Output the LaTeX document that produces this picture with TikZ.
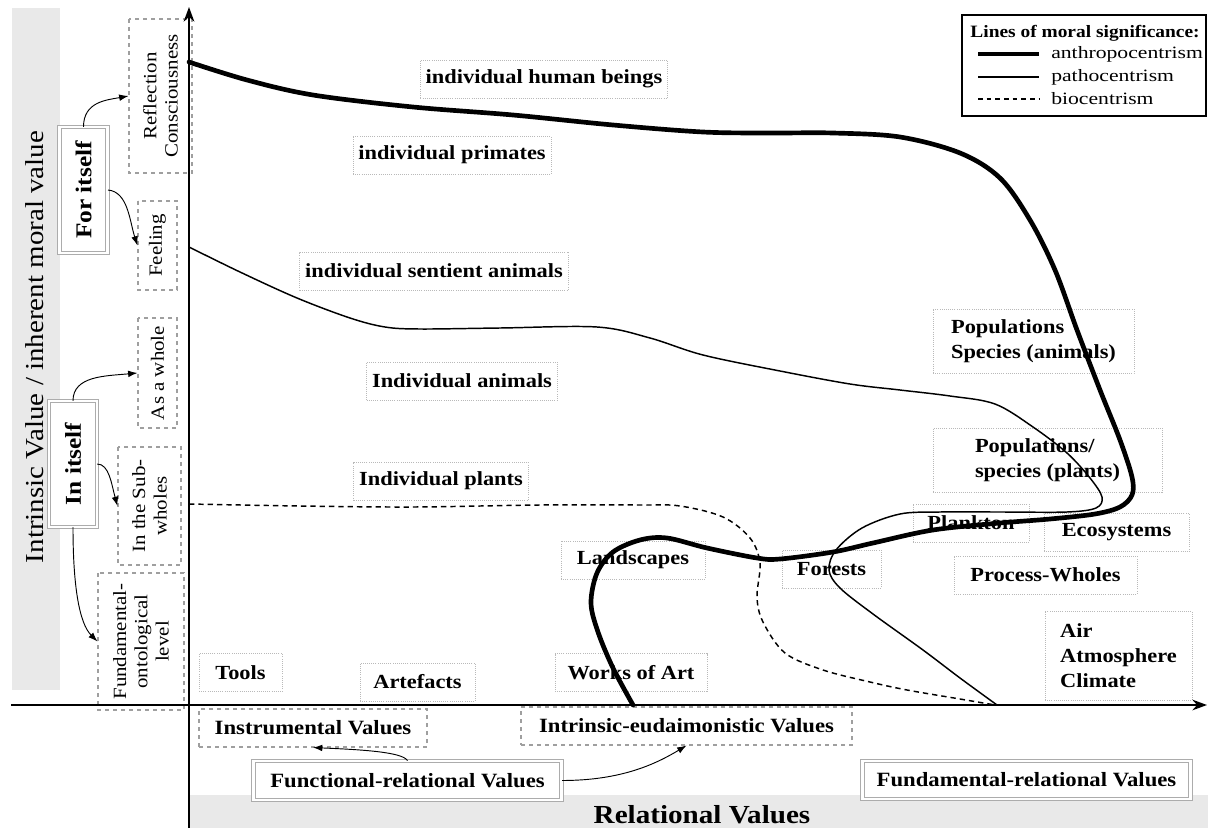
\documentclass[tikz,border=0pt]{standalone}
\usepackage{fontspec}
\setmainfont[FakeStretch=1.12]{Liberation Serif}
\newfontfamily\legfont[FakeStretch=1.25]{Liberation Serif}
\usetikzlibrary{arrows.meta}
\tikzset{
  lbl/.style={font=\bfseries\fontsize{15}{19}\selectfont, draw=gray!55, densely dotted, line width=0.6pt, inner xsep=4pt, inner ysep=0pt, minimum height=28.5pt},
  lblml/.style={lbl, align=left},
  leftbox/.style={draw=gray!75, dashed, line width=0.8pt, rotate=90, font=\fontsize{14}{16}\selectfont, align=center, inner sep=0pt},
  dblbox/.style={draw=gray!65, double=white, double distance=1.6pt, line width=0.8pt, fill=white, inner sep=0pt},
  botbox/.style={draw=gray!75, dashed, line width=0.8pt, inner sep=0pt, font=\bfseries\fontsize{15.2}{18}\selectfont},
  sarrow/.style={-{Latex[length=7pt,width=5pt]}, line width=0.7pt},
  axisline/.style={line width=1.5pt, -{Stealth[length=11pt,width=8pt]}},
  anthro/.style={line width=3.5pt, line cap=round, line join=round},
  patho/.style={line width=1.1pt},
  bio/.style={line width=1.1pt, dash pattern=on 4pt off 3pt},
  legtext/.style={anchor=west, font=\legfont\fontsize{13}{15}\selectfont, inner sep=0pt},
}
\begin{document}
\begin{tikzpicture}[x=0.75pt,y=-0.75pt]
\useasboundingbox (0,0) rectangle (1208,828);
% grey bands
\fill[gray!17] (12,8) rectangle (60,690);
\fill[gray!17] (190,795) rectangle (1208,828);
\node[rotate=90, font=\fontsize{19.4}{22}\selectfont, inner sep=0pt] (ivlabel) at (35,347) {Intrinsic Value / inherent moral value};
\node[font=\bfseries\fontsize{19.5}{22}\selectfont, inner sep=0pt] (rvlabel) at (702,815) {Relational Values};

% left boxes
\node[leftbox, minimum width=115.5pt, minimum height=47.25pt] (reflection) at (160.5,96) {Reflection\\Consciousness};
\node[leftbox, minimum width=66.75pt, minimum height=29.25pt] (feeling) at (157.5,245.5) {Feeling};
\node[leftbox, minimum width=82.5pt, minimum height=29.25pt] (whole) at (157.5,373) {As a whole};
\node[leftbox, minimum width=88.5pt, minimum height=47.25pt] (subwholes) at (149.5,506) {In the Sub-\\wholes};
\node[leftbox, minimum width=102.75pt, minimum height=64.5pt] (fundont) at (141,641.5) {Fundamental-\\ontological\\level};
\node[dblbox, rotate=90, minimum width=94pt, minimum height=36pt, font=\bfseries\fontsize{17}{19}\selectfont] (foritself) at (83.5,190) {For itself};
\node[dblbox, rotate=90, minimum width=94pt, minimum height=35.5pt, font=\bfseries\fontsize{17}{19}\selectfont] (initself) at (73,464) {In itself};

% left arrows
\draw[sarrow] (foritself.east) .. controls +(0,-25) and +(-22,4) .. (reflection.north);
\draw[sarrow] (foritself.south) .. controls +(20,2) and +(-8,-25) .. (feeling.north);
\draw[sarrow] (initself.east) .. controls +(0,-25) and +(-32,3) .. (whole.north);
\draw[sarrow] (initself.south) .. controls +(12,0) and +(-6,-22) .. (subwholes.north);
\draw[sarrow] (initself.west) .. controls +(0,60) and +(-18,-18) .. (fundont.north);

% bottom boxes
\node[botbox, minimum width=171pt, minimum height=28.5pt] (instr) at (313,728) {Instrumental Values};
\node[botbox, minimum width=248.25pt, minimum height=28.5pt] (eudaim) at (686.5,726) {Intrinsic-eudaimonistic Values};
\node[dblbox, minimum width=231pt, minimum height=29pt, font=\bfseries\fontsize{15.2}{18}\selectfont] (funcrel) at (407.5,780.5) {Functional-relational Values};
\node[dblbox, minimum width=246pt, minimum height=28.5pt, font=\bfseries\fontsize{15.2}{18}\selectfont] (fundrel) at (1026.5,780) {Fundamental-relational Values};
\draw[sarrow] (funcrel.north) .. controls +(-5,-9) and +(45,2) .. (instr.south);
\draw[sarrow] (funcrel.east) .. controls +(60,0) and +(-30,18) .. (eudaim.south);

% central labels
\node[lbl, minimum width=180pt] (human) at (544,79) {individual human beings};
\node[lbl, minimum width=147.75pt] (primates) at (452,155) {individual primates};
\node[lbl, minimum width=185.25pt] (sentient) at (434,271) {individual sentient animals};
\node[lbl, minimum width=129.75pt] (animals) at (462,381) {Individual animals};
\node[lbl, minimum width=125.25pt] (plants) at (441,481) {Individual plants};
\node[lbl, minimum width=108pt] (landscapes) at (633,560) {Landscapes};
\node[lbl, minimum width=114pt] (works) at (631,672.5) {Works of Art};
\node[lbl, minimum width=74.25pt] (forests) at (831.5,569) {Forests};
\node[lbl, minimum width=62.25pt] (tools) at (240.5,672.5) {Tools};
\node[lbl, minimum width=86.25pt] (artefacts) at (417.5,682) {Artefacts};
\node[lblml, minimum width=150.75pt, minimum height=48pt] (popanimals) at (1033.5,341) {Populations\\Species (animals)};
\node[lblml, minimum width=171.75pt, minimum height=48pt] (popplants) at (1047.5,460) {Populations/\\species (plants)};
\node[lbl, minimum width=87pt] (plankton) at (971,523) {Plankton};
\node[lbl, minimum width=108.75pt] (ecosystems) at (1116.5,532.5) {Ecosystems};
\node[lbl, minimum width=137.25pt] (process) at (1045.5,575) {Process-Wholes};
\node[lblml, font=\bfseries\fontsize{15}{18.75}\selectfont, minimum width=110.25pt, minimum height=66.75pt] (air) at (1118.5,655.5) {Air\\Atmosphere\\Climate};

% lines of moral significance
\draw[anthro] plot[smooth, tension=0.55] coordinates {(189,62) (247,80) (313,95) (413,107) (513,115) (613,125) (703,132) (770,133) (833,133) (900,137) (960,153) (1000,178) (1030,220) (1055,270) (1077,330) (1100,390) (1120,440) (1132,477) (1132,495) (1120,507) (1095,514) (1050,519) (1000,523) (933,530) (873,543) (833,552) (780,559) (757,558) (707,548) (667,538) (640,540) (613,552) (597,573) (591,603) (598,632) (613,668) (633,705)};
\draw[patho] plot[smooth, tension=0.55] coordinates {(189,247) (240,272) (297,298) (350,318) (385,327) (420,329) (500,328) (597,327) (650,338) (703,355) (780,371) (850,384) (900,390) (950,396) (995,404) (1033,427) (1067,453) (1090,478) (1102,497) (1096,508) (1067,512) (1000,512) (940,512) (900,514) (862,528) (836,550) (829,570) (840,588) (873,614) (923,650) (960,678) (997,705)};
\draw[bio] plot[smooth, tension=0.55] coordinates {(189,504) (300,506) (413,507) (540,505) (640,505) (680,506) (723,517) (750,538) (760,563) (757,597) (763,622) (785,653) (823,670) (870,682) (907,690) (960,699) (995,705)};

% axes
\coordinate (ybot) at (189,828);
\coordinate (ytop) at (189,7);
\coordinate (xleft) at (11,705);
\coordinate (xright) at (1207,705);
\draw[axisline] (ybot) -- (ytop);
\draw[axisline] (xleft) -- (xright);

% legend
\node[draw, fill=white, line width=0.8pt, minimum width=183pt, minimum height=75.75pt, inner sep=0pt] (legend) at (1084,65.5) {};
\node[font=\bfseries\fontsize{13}{15}\selectfont, inner sep=0pt] (legtitle) at (1085,33) {Lines of moral significance:};
\coordinate (la1) at (978,54); \coordinate (la2) at (1039,54);
\coordinate (lp1) at (978,77); \coordinate (lp2) at (1039,77);
\coordinate (lb1) at (978,99); \coordinate (lb2) at (1039,99);
\draw[line width=3.2pt] (la1) -- (la2);
\draw[line width=1pt] (lp1) -- (lp2);
\draw[line width=0.9pt, dash pattern=on 3.5pt off 3pt] (lb1) -- (lb2);
\node[legtext] (tanthro) at (1051,54) {anthropocentrism};
\node[legtext] (tpatho) at (1051,77) {pathocentrism};
\node[legtext] (tbio) at (1051,99) {biocentrism};
\end{tikzpicture}
\end{document}
